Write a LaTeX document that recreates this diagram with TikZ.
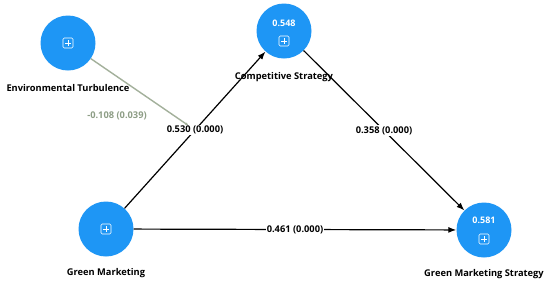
\documentclass[tikz,border=0pt]{standalone}
\usepackage{fontspec}
\setmainfont{Open Sans}
\usepackage{tikz}
\usetikzlibrary{calc,arrows.meta,positioning}
\definecolor{lvblue}{HTML}{1E96F5}
\definecolor{modgreen}{HTML}{8E9E86}
\definecolor{modline}{HTML}{A3B09B}

\tikzset{
  construct/.style={circle,fill=lvblue,minimum size=55pt,inner sep=0pt},
  cname/.style={font=\fontsize{9.3}{10}\selectfont\bfseries,text=black},
  rsq/.style={font=\fontsize{9}{10}\selectfont\bfseries,text=white},
  path/.style={-{Latex[length=8pt,width=6pt]},line width=1.2pt},
  coef/.style={fill=white,inner sep=1pt,font=\fontsize{9.3}{10}\selectfont\bfseries},
  plusicon/.pic={
    \draw[white,line width=.6pt,rounded corners=1.2pt] (-5,-5) rectangle (5,5);
    \draw[white,line width=.6pt] (-3,0)--(3,0) (0,-3)--(0,3);
  }
}

\begin{document}
\begin{tikzpicture}[x=1pt,y=-1pt]
\useasboundingbox[fill=white] (0,0) rectangle (550,285);
% constructs
\node[construct] (et) at (68,43) {};
\node[construct] (cs) at (284,31) {};
\node[construct] (gm) at (106,229) {};
\node[construct] (gms) at (484,230) {};
\pic at (et) {plusicon};
\pic at ($(cs)+(0,10)$) {plusicon};
\pic at (gm) {plusicon};
\pic at ($(gms)+(0,9)$) {plusicon};
\node[rsq] at ($(cs)+(0,-8)$) {0.548};
\node[rsq] at ($(gms)+(0,-10)$) {0.581};
\node[cname] at (68,88) {Environmental Turbulence};
\node[cname] at (284,77) {Competitive Strategy};
\node[cname] at (106,273) {Green Marketing};
\node[cname] at (484,274) {Green Marketing Strategy};
% paths
\path (gm) -- coordinate[midway] (mid) (cs);
\draw[modline,line width=1.4pt,-{Latex[length=3pt,width=3pt]},shorten >=8pt] (et) -- (mid);
\draw[path] (gm) -- (cs);
\draw[path] (cs) -- (gms);
\draw[path] (gm) -- (gms);
% coefficients
\node[coef] (c530) at (mid) {0.530 (0.000)};
\node[coef] (c358) at ($(cs)!.5!(gms)$) {0.358 (0.000)};
\node[coef] (c461) at ($(gm)!.5!(gms)$) {0.461 (0.000)};
\node[coef,text=modgreen,fill=none] (c108) at (117,116) {-0.108 (0.039)};
\end{tikzpicture}
\end{document}
